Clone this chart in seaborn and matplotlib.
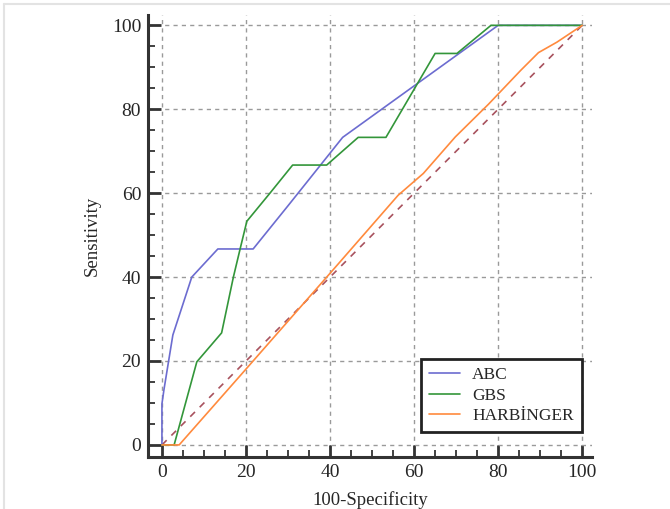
import numpy as np
import pandas as pd
import matplotlib
matplotlib.use("Agg")
import matplotlib.pyplot as plt
import seaborn as sns
from matplotlib.ticker import MultipleLocator
from matplotlib.lines import Line2D

# ---------------------------------------------------------
# ROC curve data
# ---------------------------------------------------------
abc_x = [0, 0, 0.5, 2.6, 7.1, 13.3, 21.7, 30.0, 43.0, 80.0, 100]
abc_y = [0, 9.8, 13.3, 26.2, 40.0, 46.7, 46.7, 57.0, 73.3, 100.0, 100]

gbs_x = [0, 2.9, 8.3, 14.2, 17.0, 18.6, 20.2, 25.7, 31.1, 39.2, 46.7, 53.3, 65.0, 70.2, 78.3, 100]
gbs_y = [0, 0, 19.8, 26.7, 40.0, 46.7, 53.3, 60.0, 66.7, 66.7, 73.3, 73.3, 93.3, 93.3, 100, 100]

harb_x = [0, 4.1, 20.2, 40.0, 56.2, 62.2, 69.8, 77.7, 85.4, 89.6, 94.0, 100]
harb_y = [0, 0, 18.3, 40.9, 59.5, 64.7, 73.4, 81.2, 89.3, 93.5, 96.0, 100]

ref_x = [0, 100]
ref_y = [0, 100]

series = ['ABC', 'GBS', 'HARBİNGER']
colors = ['#6c6cd0', '#33963a', '#ff8a3d']

df = pd.concat([
    pd.DataFrame({'fpr': abc_x, 'tpr': abc_y, 'test': 'ABC'}),
    pd.DataFrame({'fpr': gbs_x, 'tpr': gbs_y, 'test': 'GBS'}),
    pd.DataFrame({'fpr': harb_x, 'tpr': harb_y, 'test': 'HARBİNGER'}),
], ignore_index=True)

sns.set_style('white', {'xtick.direction': 'in', 'ytick.direction': 'in'})
plt.rcParams['font.family'] = ['Liberation Serif', 'DejaVu Serif']
plt.rcParams['xtick.direction'] = 'in'
plt.rcParams['ytick.direction'] = 'in'

fig = plt.figure(figsize=(6.70, 5.09), dpi=100)
ax = fig.add_axes([0.221, 0.102, 0.663, 0.868])

# diagonal reference line
ax.plot(ref_x, ref_y, color='#a8525e', linestyle=(0, (4, 4)), linewidth=1.2, zorder=2)

sns.lineplot(data=df, x='fpr', y='tpr', hue='test', estimator=None, sort=False,
             palette=dict(zip(series, colors)), hue_order=series,
             linewidth=1.2, ax=ax, legend=False, zorder=3)

ax.set_xlim(-3.3, 102.4)
ax.set_ylim(-2.9, 102.4)
ax.xaxis.set_major_locator(MultipleLocator(20))
ax.yaxis.set_major_locator(MultipleLocator(20))
ax.xaxis.set_minor_locator(MultipleLocator(5))
ax.yaxis.set_minor_locator(MultipleLocator(5))
ax.grid(True, which='major', color='#9a9a9a', linestyle=(0, (3, 3)), linewidth=1.0)

for s in ['top', 'right']:
    ax.spines[s].set_visible(False)
for s in ['left', 'bottom']:
    ax.spines[s].set_linewidth(2.2)
    ax.spines[s].set_color('#333333')

ax.tick_params(which='major', direction='in', length=9, width=2, color='#333333',
               labelsize=14, pad=5, bottom=True, left=True)
ax.tick_params(which='minor', direction='in', length=5, width=1.3, color='#333333',
               bottom=True, left=True)

ax.set_xlabel('100-Specificity', fontsize=13.5, labelpad=7)
ax.set_ylabel('Sensitivity', fontsize=13.5, labelpad=8)

handles = [Line2D([0], [0], color=c, linewidth=1.2) for c in colors]
leg = ax.legend(handles, series, loc='lower right', bbox_to_anchor=(0.976, 0.057),
                borderaxespad=0, fontsize=12.5, frameon=True, fancybox=False,
                framealpha=1, edgecolor='#222222', handlelength=1.8,
                labelspacing=0.25, borderpad=0.45, handletextpad=0.7)
leg.get_frame().set_linewidth(2)

# light page border at top and left
fig.add_artist(Line2D([0.006, 1], [0.992, 0.992], color='#e3e3e3', linewidth=1.5))
fig.add_artist(Line2D([0.006, 0.006], [0, 0.992], color='#e3e3e3', linewidth=1.5))

plt.savefig('out.png', dpi=100)
